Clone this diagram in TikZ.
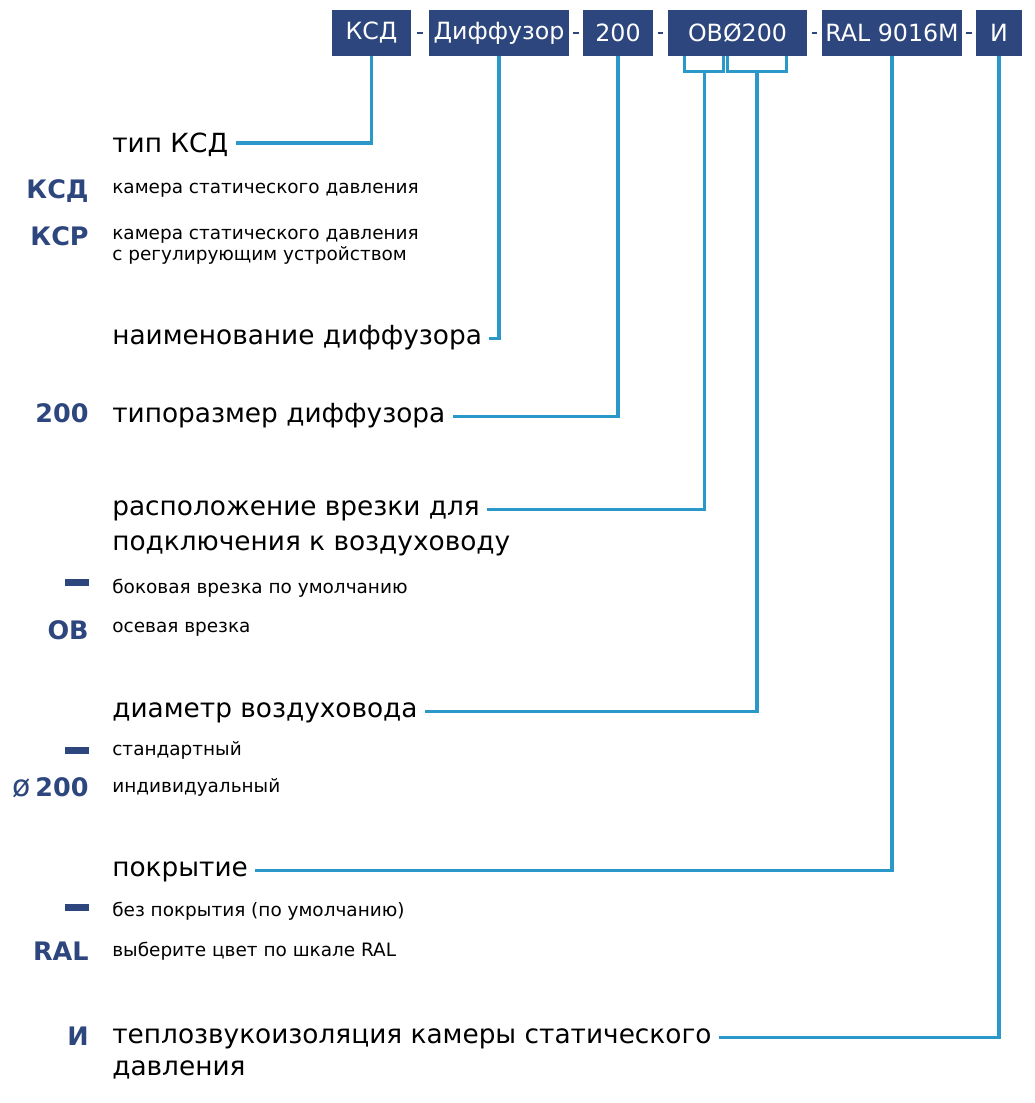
\documentclass[tikz,border=0pt]{standalone}
\usepackage{fontspec}
\setmainfont{DejaVu Sans}
\usetikzlibrary{calc}
\definecolor{codenavy}{RGB}{45,70,125}
\definecolor{linkblue}{RGB}{42,152,200}

\begin{document}
\begin{tikzpicture}[x=0.02cm, y=-0.02cm,
    % Styles
    codebox/.style={fill=codenavy, text=white, font=\fontsize{13.5}{15}\selectfont, inner sep=0pt, minimum height=0.92cm},
    hyph/.style={codenavy, line width=1.5pt},
    link/.style={linkblue, line width=1.9pt, shorten >=4pt},
    bracket/.style={linkblue, line width=1.9pt},
    heading/.style={anchor=base west, inner xsep=0pt, font=\fontsize{15}{18}\selectfont, text height=2.2ex, text depth=1.0ex},
    desc/.style={anchor=base west, inner xsep=0pt, font=\fontsize{10.5}{12}\selectfont},
    codelabel/.style={anchor=base east, inner xsep=0pt, font=\fontsize{14.5}{17}\selectfont\bfseries, text=codenavy},
    marker/.style={fill=codenavy, inner sep=0pt, minimum width=0.48cm, minimum height=0.14cm},
]
\useasboundingbox (0,0) rectangle (1035,1103);

% Code row
\node[codebox, minimum width=1.58cm] (ksd) at (371.5,33) {КСД};
\node[codebox, minimum width=2.8cm] (diff) at (499,33) {Диффузор};
\node[codebox, minimum width=1.4cm] (size) at (618,33) {200};
\node[codebox, minimum width=2.78cm] (obd) at (737.5,33) {ОВØ200};
\node[codebox, minimum width=2.8cm] (ral) at (892,33) {RAL 9016M};
\node[codebox, minimum width=0.92cm] (iso) at (999,33) {И};

% Hyphens between codes
\foreach \a/\b in {ksd/diff, diff/size, size/obd, obd/ral, ral/iso}
    \draw[hyph] ($(\a.east)!0.3!(\b.west)$) -- ($(\a.east)!0.7!(\b.west)$);

% Brackets under OB and diameter
\draw[bracket] ($(obd.south west)+(17,0)$) -- ++(0,15) -| ($(obd.south west)+(56,0)$);
\draw[bracket] ($(obd.south west)+(60,0)$) -- ++(0,15) -| ($(obd.south west)+(119,0)$);
\coordinate (brOB) at ($(obd.south west)+(37,15)$);
\coordinate (brDia) at ($(obd.south west)+(89.5,15)$);

% Headings
\node[heading, text depth=0.3ex] (tip) at (112,152) {тип КСД};
\node[heading] (name) at (112,344) {наименование диффузора};
\node[heading] (tsize) at (112,422) {типоразмер диффузора};
\node[heading] (vrez) at (112,515) {расположение врезки для};
\node[heading] (vrez2) at (112,550) {подключения к воздуховоду};
\node[heading] (diam) at (112,717) {диаметр воздуховода};
\node[heading] (cover) at (112,876) {покрытие};
\node[heading] (insul) at (112,1043) {теплозвукоизоляция камеры статического};
\node[heading] (insul2) at (112,1075) {давления};

% Descriptions
\node[desc] (dKSD) at (112,193) {камера статического давления};
\node[desc] (dKSR) at (112,239) {камера статического давления};
\node[desc] (dKSR2) at (112,260) {с регулирующим устройством};
\node[desc] (dSide) at (112,593) {боковая врезка по умолчанию};
\node[desc] (dAxial) at (112,632) {осевая врезка};
\node[desc] (dStd) at (112,755) {стандартный};
\node[desc] (dInd) at (112,792) {индивидуальный};
\node[desc] (dNone) at (112,916) {без покрытия (по умолчанию)};
\node[desc] (dRAL) at (112,956) {выберите цвет по шкале RAL};

% Code labels
\node[codelabel] (lKSD) at (89,198) {КСД};
\node[codelabel] (lKSR) at (89,245) {КСР};
\node[codelabel] (lSize) at (89,422) {200};
\node[codelabel] (lOB) at (89,639) {ОВ};
\node[codelabel] (lDiam) at (89,796) {{\mdseries\fontsize{17}{17}\selectfont ø}\,200};
\node[codelabel] (lRAL) at (89,960) {RAL};
\node[codelabel] (lI) at (89,1045) {И};

% Default markers
\node[marker] (mSide) at (77,582.5) {};
\node[marker] (mStd) at (77,750) {};
\node[marker] (mNone) at (77,907.5) {};

% Connectors
\draw[link] (ksd.south) |- (tip.east);
\draw[link] (diff.south) |- (name.east);
\draw[link] (size.south) |- (tsize.east);
\draw[link] (brOB) |- (vrez.east);
\draw[link] (brDia) |- (diam.east);
\draw[link] (ral.south) |- (cover.east);
\draw[link] (iso.south) |- (insul.east);

\end{tikzpicture}
\end{document}
